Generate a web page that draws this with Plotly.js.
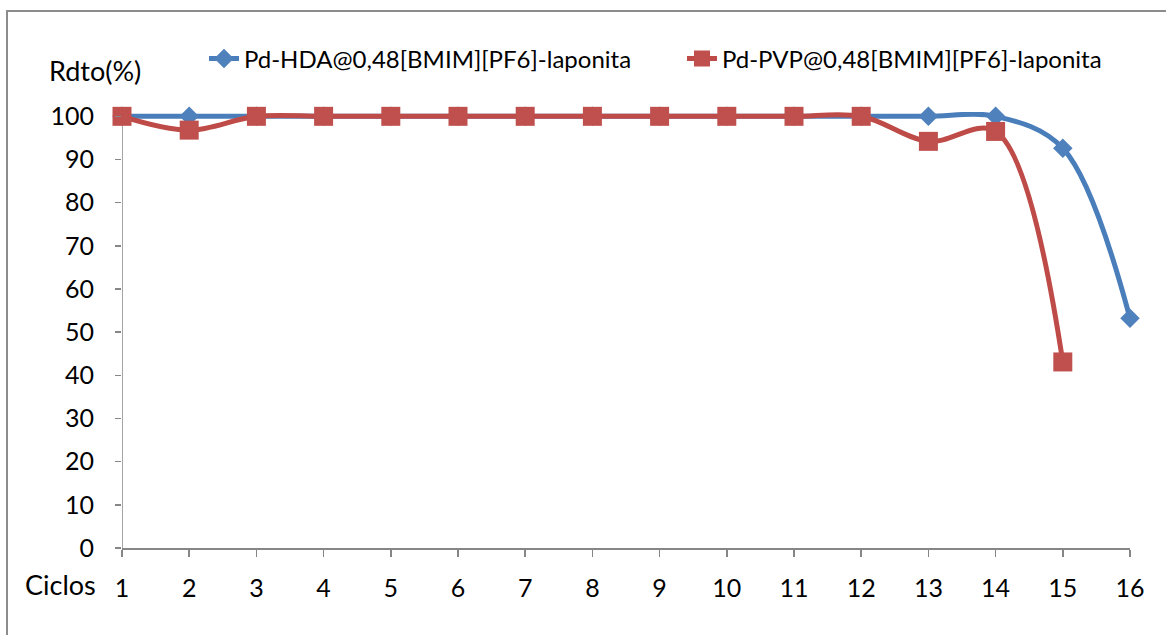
<!DOCTYPE html>
<html>
<head>
<meta charset="utf-8">
<script src="https://cdn.plot.ly/plotly-3.0.1.min.js"></script>
<style>
  html, body { margin: 0; padding: 0; background: #ffffff; }
  #frame { position: absolute; left: 6px; top: 10px; width: 1300px; height: 800px;
           border-left: 2px solid #8c8c8c; border-top: 2px solid #8c8c8c; }
  #chart { position: absolute; left: 0; top: 0; width: 1166px; height: 635px; }
</style>
</head>
<body>
<div id="frame"></div>
<div id="chart"></div>
<script>
// ---- data ----
const cycles = [1, 2, 3, 4, 5, 6, 7, 8, 9, 10, 11, 12, 13, 14, 15, 16];
const seriesHDAName = "Pd-HDA@0,48[BMIM][PF6]-laponita";
const seriesHDA = [100, 100, 100, 100, 100, 100, 100, 100, 100, 100, 100, 100, 100, 100, 92.6, 53.2];
const seriesPVPName = "Pd-PVP@0,48[BMIM][PF6]-laponita";
const cyclesPVP = [1, 2, 3, 4, 5, 6, 7, 8, 9, 10, 11, 12, 13, 14, 15];
const seriesPVP = [100, 96.8, 100, 100, 100, 100, 100, 100, 100, 100, 100, 100, 94.2, 96.5, 43.1];
const yTicks = [0, 10, 20, 30, 40, 50, 60, 70, 80, 90, 100];
const yTitle = "Rdto(%)";
const xTitle = "Ciclos";

// ---- layout ----
const W = 1166, H = 635;
const M = { l: 122, r: 36, t: 112, b: 87 };
const pw = W - M.l - M.r, ph = H - M.t - M.b;
const yMax = 101;
const px2paperX = (px) => (px - M.l) / pw;
const px2paperY = (py) => (H - M.b - py) / ph;

const font = "Lato, 'Open Sans', sans-serif";
const axisColor = "#868686";

const traces = [
  {
    x: cycles, y: seriesHDA, name: seriesHDAName, type: "scatter", mode: "lines+markers",
    line: { color: "#4A7EBB", width: 5, shape: "spline", smoothing: 1 },
    marker: { symbol: "diamond", size: 15, color: "#4F81BD", line: { width: 0 } },
    cliponaxis: false
  },
  {
    x: cyclesPVP, y: seriesPVP, name: seriesPVPName, type: "scatter", mode: "lines+markers",
    line: { color: "#BE4B48", width: 5, shape: "spline", smoothing: 1 },
    marker: { symbol: "square", size: 19, color: "#C0504D", line: { width: 0 } },
    cliponaxis: false
  }
];

const layout = {
  width: W, height: H,
  margin: M,
  paper_bgcolor: "rgba(0,0,0,0)",
  plot_bgcolor: "rgba(0,0,0,0)",
  font: { family: font, size: 24, color: "#000000" },
  showlegend: true,
  legend: {
    orientation: "h",
    xref: "container", yref: "container",
    x: 204 / W, xanchor: "left",
    y: 1 - 59 / H, yanchor: "middle",
    font: { family: font, size: 24, color: "#000000" },
    bgcolor: "rgba(0,0,0,0)",
    itemwidth: 30,
    entrywidth: 433, entrywidthmode: "pixels",
    traceorder: "normal"
  },
  xaxis: {
    range: [cycles[0], cycles[cycles.length - 1]],
    tickvals: cycles,
    ticktext: cycles.map(String),
    showgrid: false, zeroline: false,
    showline: true, linecolor: axisColor, linewidth: 1.5,
    ticks: "outside", ticklen: 7, tickwidth: 1.5, tickcolor: axisColor,
    ticklabelstandoff: 10,
    tickfont: { family: font, size: 25, color: "#000000" },
    fixedrange: true
  },
  yaxis: {
    range: [0, yMax],
    tickvals: yTicks,
    ticktext: yTicks.map(String),
    showgrid: false, zeroline: false,
    showline: false,
    ticks: "outside", ticklen: 6, tickwidth: 1.5, tickcolor: axisColor,
    ticklabelstandoff: 16,
    tickfont: { family: font, size: 25, color: "#000000" },
    fixedrange: true
  },
  shapes: [
    { type: "line", xref: "x", yref: "y",
      x0: cycles[0], x1: cycles[0], y0: yTicks[0], y1: yTicks[yTicks.length - 1],
      line: { color: axisColor, width: 1.5 }, layer: "below" }
  ],
  annotations: [
    { text: yTitle, xref: "paper", yref: "paper", x: px2paperX(95), y: px2paperY(70),
      xanchor: "center", yanchor: "middle", showarrow: false,
      font: { family: font, size: 27, color: "#000000" } },
    { text: xTitle, xref: "paper", yref: "paper", x: px2paperX(60), y: px2paperY(584),
      xanchor: "center", yanchor: "middle", showarrow: false,
      font: { family: font, size: 27, color: "#000000" } }
  ]
};

Plotly.newPlot("chart", traces, layout, { displayModeBar: false, staticPlot: true });
</script>
</body>
</html>
